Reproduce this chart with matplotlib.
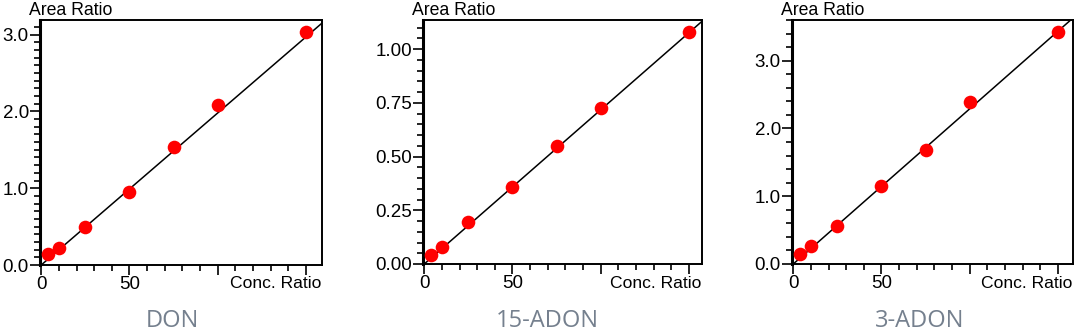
"""
Calibration curves for DON, 15-ADON and 3-ADON.
"""

import numpy as np
import matplotlib
matplotlib.use("Agg")
import matplotlib.pyplot as plt
from matplotlib.ticker import MultipleLocator

# data
conc = [4, 10, 25, 50, 75, 100, 150]
don_area = [0.14, 0.226, 0.50, 0.957, 1.53, 2.08, 3.03]
adon15_area = [0.040, 0.081, 0.196, 0.357, 0.548, 0.724, 1.079]
adon3_area = [0.148, 0.27, 0.566, 1.151, 1.682, 2.395, 3.419]

names = ["DON", "15-ADON", "3-ADON"]
slopes = [0.0198, 0.00718, 0.0229]
intercepts = [0.0, 0.0, 0.0]

y_tops = [3.19, 1.136, 3.6]
y_major = [1.0, 0.25, 1.0]
y_minor = [0.1, 0.05, 0.2]
y_fmt = ["{:.1f}", "{:.2f}", "{:.1f}"]

W, H = 1080, 334
# axes boxes in pixels: left, right, top, bottom
boxes = [(40, 322, 20, 265), (423, 702, 20, 264), (792, 1073, 20, 264)]
title_x = [172, 547, 920]

plt.rcParams["font.family"] = ["Liberation Sans", "DejaVu Sans"]

fig = plt.figure(figsize=(W / 100, H / 100), dpi=100)

for i, area in enumerate([don_area, adon15_area, adon3_area]):
    l, r, t, b = boxes[i]
    ax = fig.add_axes([l / W, (H - b) / H, (r - l) / W, (b - t) / H])
    xmax = (r - l) / 1.765 - 0.7
    ax.set_xlim(-0.7, xmax)
    ax.set_ylim(0, y_tops[i])

    xs = np.array([0, xmax])
    ax.plot(xs, slopes[i] * xs + intercepts[i], color="black", lw=1.1, zorder=2)
    ax.plot(conc, area, "o", color="#ff0000", ms=9.8, mec="none", zorder=3)

    ax.xaxis.set_minor_locator(MultipleLocator(10))
    ax.yaxis.set_major_locator(MultipleLocator(y_major[i]))
    ax.yaxis.set_minor_locator(MultipleLocator(y_minor[i]))
    ax.set_xticks([0, 50, 100, 150])
    ax.set_xticklabels(["0", "50", "", ""])
    yt = ax.get_yticks()
    yt = [v for v in yt if 0 <= v <= y_tops[i]]
    ax.set_yticks(yt)
    ax.set_yticklabels([y_fmt[i].format(v) for v in yt])

    ax.tick_params(which="major", length=7, width=1.2, labelsize=13.5, pad=1,
                   direction="out", colors="black")
    ax.tick_params(which="minor", length=4, width=1.2, direction="out")
    for s in ax.spines.values():
        s.set_linewidth(1.4)
    ax.spines["left"].set_linewidth(2.2)

    fig.text((l - 11) / W, (H - 15) / H, "Area Ratio", fontsize=12.7, ha="left",
             va="baseline")
    fig.text((r - 1) / W, (H - 288) / H, "Conc. Ratio", fontsize=12.6, ha="right",
             va="baseline")
    fig.text(title_x[i] / W, (H - 321) / H, names[i], fontsize=17, ha="center",
             va="center", color="#75808e", family=["Open Sans", "DejaVu Sans"])

fig.savefig("out.png", dpi=100)
